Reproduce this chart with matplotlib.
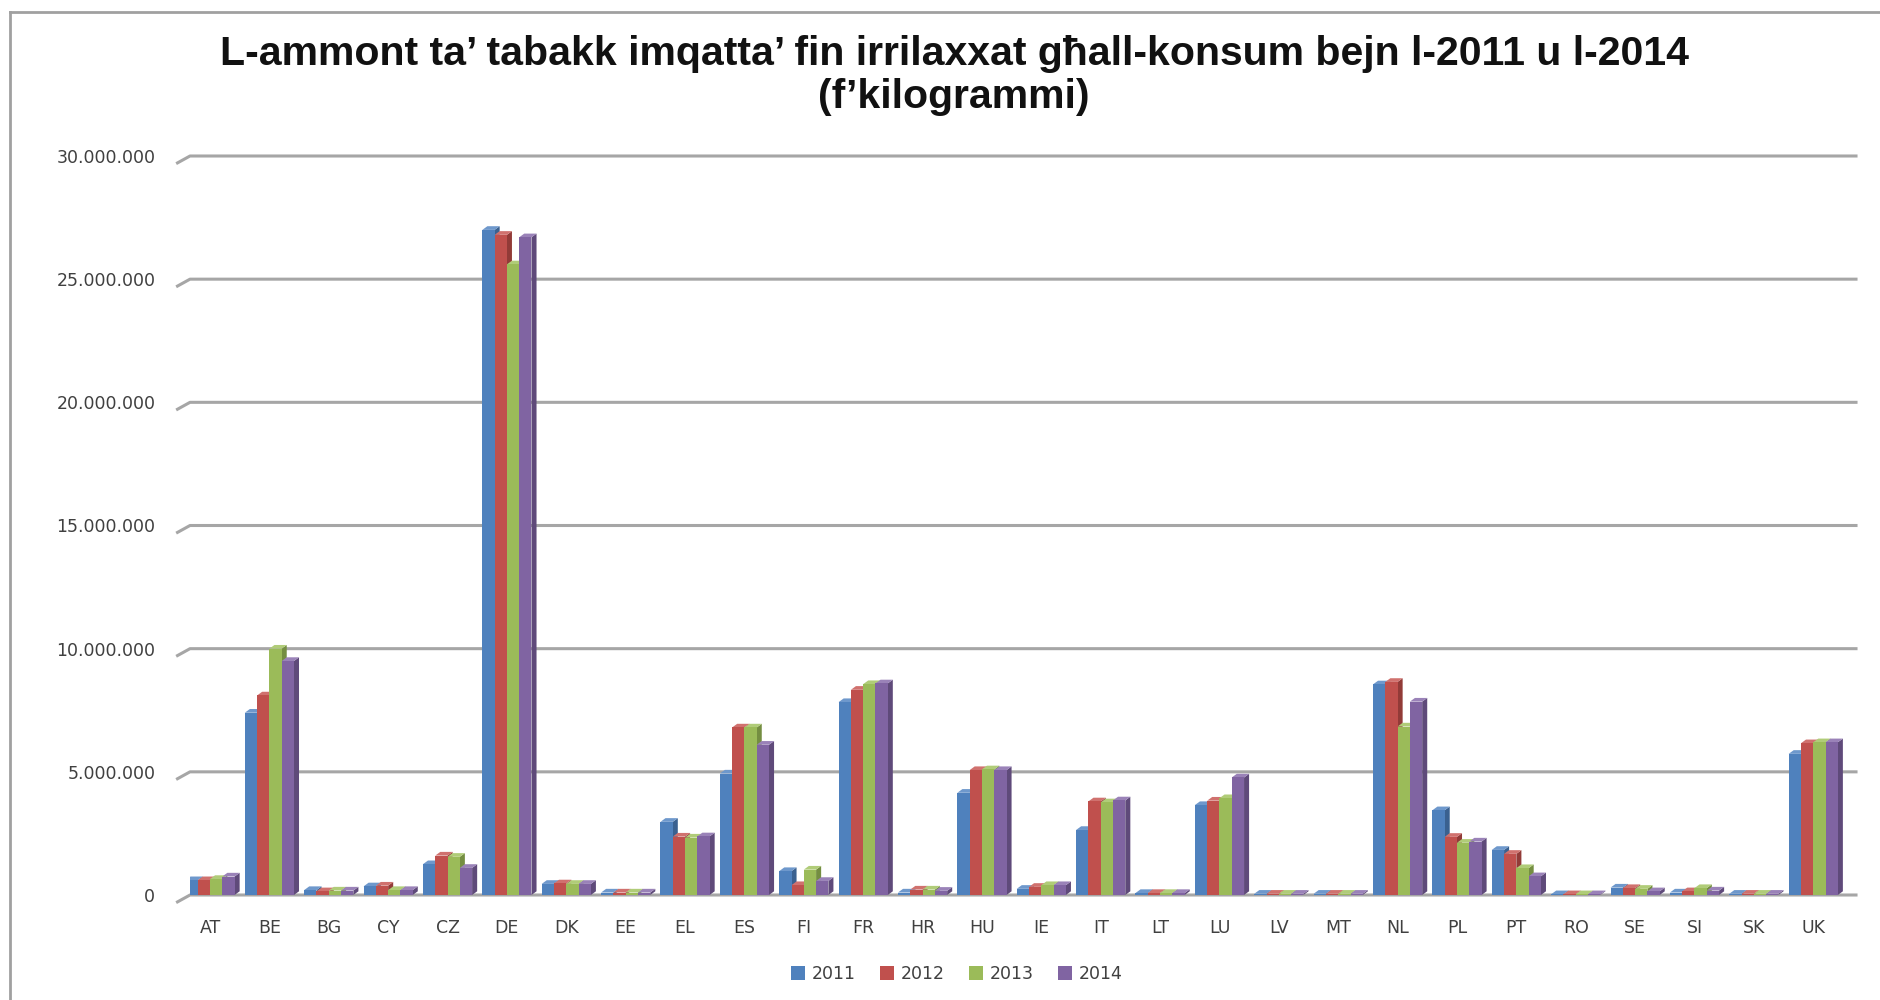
import numpy as np
import matplotlib
matplotlib.use("Agg")
import matplotlib.pyplot as plt
from matplotlib.lines import Line2D
from matplotlib.patches import Patch

countries = ["AT", "BE", "BG", "CY", "CZ", "DE", "DK", "EE", "EL", "ES", "FI", "FR", "HR", "HU",
             "IE", "IT", "LT", "LU", "LV", "MT", "NL", "PL", "PT", "RO", "SE", "SI", "SK", "UK"]
years = ["2011", "2012", "2013", "2014"]

# million kg
v2011 = [0.60, 7.40, 0.20, 0.35, 1.25, 27.0, 0.45, 0.10, 2.97, 4.93, 0.97, 7.83, 0.10, 4.15,
         0.25, 2.64, 0.08, 3.65, 0.05, 0.05, 8.55, 3.44, 1.83, 0.03, 0.30, 0.10, 0.05, 5.73]
v2012 = [0.60, 8.10, 0.15, 0.38, 1.60, 26.8, 0.47, 0.10, 2.37, 6.80, 0.40, 8.33, 0.22, 5.07,
         0.33, 3.80, 0.08, 3.83, 0.05, 0.05, 8.65, 2.36, 1.67, 0.03, 0.28, 0.15, 0.05, 6.16]
v2013 = [0.65, 10.0, 0.18, 0.20, 1.55, 25.6, 0.45, 0.10, 2.33, 6.80, 1.03, 8.56, 0.22, 5.10,
         0.40, 3.76, 0.08, 3.93, 0.05, 0.05, 6.84, 2.12, 1.09, 0.03, 0.25, 0.28, 0.05, 6.20]
v2014 = [0.75, 9.50, 0.18, 0.20, 1.10, 26.7, 0.45, 0.10, 2.38, 6.10, 0.57, 8.59, 0.17, 5.07,
         0.40, 3.84, 0.08, 4.77, 0.05, 0.05, 7.85, 2.17, 0.76, 0.03, 0.15, 0.18, 0.05, 6.20]
series = [v2011, v2012, v2013, v2014]

yticks = [0, 5e6, 10e6, 15e6, 20e6, 25e6, 30e6]
ytick_labels = ["0", "5.000.000", "10.000.000", "15.000.000", "20.000.000", "25.000.000", "30.000.000"]

title1 = "L-ammont ta’ tabakk imqatta’ fin irrilaxxat għall-konsum bejn l-2011 u l-2014"
title2 = "(f’kilogrammi)"

colors = ["#4F81BD", "#C0504D", "#9BBB59", "#8064A2"]
sides = ["#3A6190", "#923B38", "#748E41", "#5F4A7A"]
tops = ["#6E98CC", "#D0716E", "#B0CC78", "#9A82B8"]

fig = plt.figure(figsize=(18.8, 10), dpi=100)
ax = fig.add_axes([190 / 1880, 0.105, (1856 - 190) / 1880, 0.739])

x = np.arange(len(countries))
w = 0.207
depth = 0.085
lift = 0.15e6

# horizontal grid with the little 3D hook at the left
blend = ax.get_yaxis_transform()
for v in yticks:
    ax.plot([-0.0075, 0.0, 1.0], [v - 0.28e6, v, v], color="#A6A6A6", lw=2.2,
            transform=blend, clip_on=False, zorder=1)

for i, vals in enumerate(series):
    h = np.array(vals) * 1e6
    pos = x + (i - 1.5) * w
    # side face and top face, then the front
    for xi, hi in zip(pos, h):
        xr = xi + w / 2
        ax.fill([xr, xr + depth, xr + depth, xr], [0, lift, hi + lift, hi],
                color=sides[i], lw=0, zorder=2 + i * 0.01)
        ax.fill([xi - w / 2, xi - w / 2 + depth, xr + depth, xr], [hi, hi + lift, hi + lift, hi],
                color=tops[i], lw=0, zorder=2 + i * 0.01)
    ax.bar(pos, h, width=w, color=colors[i], lw=0, zorder=3 + i * 0.01)

ax.set_xlim(-0.337, 27.72)
ax.set_ylim(0, 30e6)
for s in ax.spines.values():
    s.set_visible(False)

ax.set_yticks(yticks)
ax.set_yticklabels(ytick_labels)
ax.set_xticks(x)
ax.set_xticklabels(countries)
ax.tick_params(axis="y", length=0, pad=25, labelsize=12.5, labelcolor="#404040")
ax.tick_params(axis="x", length=0, pad=17, labelsize=12.5, labelcolor="#404040")

# frame of the chart area
fig.add_artist(Line2D([10 / 1880, 10 / 1880], [0, 0.988], color="#A0A0A0", lw=2))
fig.add_artist(Line2D([10 / 1880, 1], [0.988, 0.988], color="#A0A0A0", lw=2))

fig.text(954 / 1880, 1 - 54 / 1000, title1, ha="center", va="center",
         fontsize=29.5, fontweight="bold", family="Liberation Sans", color="#111111")
fig.text(954 / 1880, 1 - 97 / 1000, title2, ha="center", va="center",
         fontsize=29.5, fontweight="bold", family="Liberation Sans", color="#111111")

handles = [Patch(facecolor=c, edgecolor="none") for c in colors]
fig.legend(handles, years, loc="center", bbox_to_anchor=(957 / 1880, 0.026), ncol=4,
           frameon=False, fontsize=12.5, handlelength=0.8, handleheight=0.8,
           handletextpad=0.4, columnspacing=1.4, labelcolor="#404040")

fig.savefig("out.png", dpi=100)
